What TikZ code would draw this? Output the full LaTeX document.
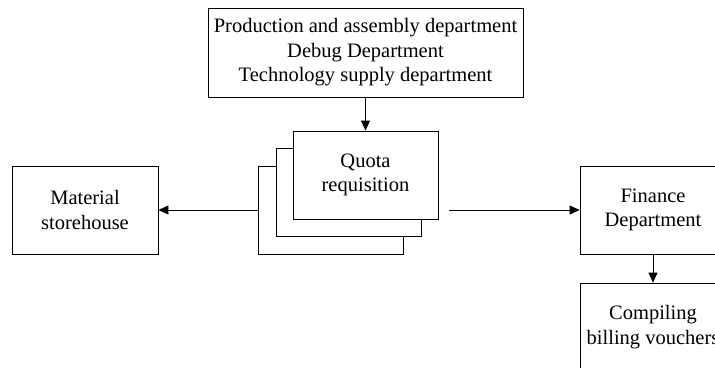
\documentclass[tikz,border=0pt]{standalone}
\usepackage{fontspec}
\setmainfont{Liberation Serif}
\usetikzlibrary{arrows.meta}
\tikzset{
  box/.style={draw, line width=0.8pt, fill=white, align=center, inner sep=0pt,
              font=\fontsize{20.5}{24.5}\selectfont},
  sheet/.style={box, minimum width=145pt, minimum height=88pt},
  flow/.style={line width=0.8pt, -{Triangle[length=10pt,width=9pt]}},
  plain/.style={line width=0.8pt}
}
\begin{document}
\begin{tikzpicture}[x=1pt,y=-1pt]
  \path[use as bounding box, clip] (0,0) rectangle (715,367);

  % departments issuing the requisition
  \node[box, minimum width=315pt, minimum height=89pt] (dept) at (365.5,52.5)
    {Production and assembly department\\Debug Department\\Technology supply department};

  % stacked requisition forms
  \node[sheet] (back) at (330.5,210) {};
  \node[sheet] (mid)  at (348.5,192.5) {};
  \node[sheet] (quota) at (365.5,175) {Quota\\requisition};

  % receiving units
  \node[box, minimum width=146pt, minimum height=88pt] (store) at (85,210)
    {Material\\storehouse};
  \node[box, minimum width=146pt, minimum height=88pt] (fin) at (653,210)
    {Finance\\Department};
  \node[box, minimum width=146pt, minimum height=88pt] (comp) at (653,327)
    {Compiling\\billing vouchers};

  \coordinate (qr) at (449,210);

  \draw[flow] (dept.south) -- (quota.north);
  \draw[flow] (back.west) -- (store.east);
  \draw[flow] (qr) -- (fin.west);
  \draw[flow] (fin.south) -- (comp.north);
\end{tikzpicture}
\end{document}
